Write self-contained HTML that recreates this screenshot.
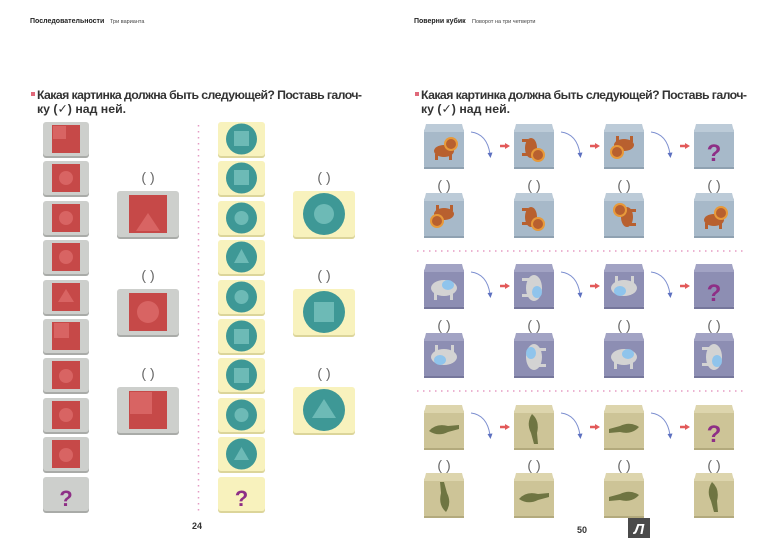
<!DOCTYPE html>
<html><head><meta charset="utf-8"><style>
html,body{margin:0;padding:0;background:#fff;width:770px;height:550px;overflow:hidden}
svg{display:block}
text{font-family:"Liberation Sans","DejaVu Sans",sans-serif}
</style></head><body>
<svg width="770" height="550" viewBox="0 0 770 550" xmlns="http://www.w3.org/2000/svg">
<defs>
<g id="gs"><rect x="0" y="1" width="46" height="35" rx="3" fill="#a9aba8"/><rect x="0" y="0" width="46" height="34" rx="3" fill="#cdcfcc"/><rect x="9" y="3" width="28" height="28" fill="#c64948"/></g>
<g id="gb"><rect x="0" y="1" width="62" height="47" rx="3" fill="#a9aba8"/><rect x="0" y="0" width="62" height="46" rx="3" fill="#cdcfcc"/><rect x="12" y="4" width="38" height="38" fill="#c64948"/></g>
<g id="ys"><rect x="0" y="1" width="47" height="35" rx="3" fill="#dcd59a"/><rect x="0" y="0" width="47" height="34" rx="3" fill="#f8f2bd"/><circle cx="23.5" cy="17" r="15.5" fill="#3e9896"/></g>
<g id="yb"><rect x="0" y="1" width="62" height="47" rx="3" fill="#dcd59a"/><rect x="0" y="0" width="62" height="46" rx="3" fill="#f8f2bd"/><circle cx="31" cy="23" r="21" fill="#3e9896"/></g>
<g id="cb"><rect x="0" y="4" width="40" height="41" rx="3" fill="#a7b9c9"/><path d="M2 0H38L40 8H0Z" fill="#bccbd8"/><rect x="0" y="43" width="40" height="2" fill="#8fa1b1"/></g>
<g id="ce"><rect x="0" y="4" width="40" height="41" rx="3" fill="#8d8eb3"/><path d="M2 0H38L40 8H0Z" fill="#a2a3c4"/><rect x="0" y="43" width="40" height="2" fill="#76779c"/></g>
<g id="cc"><rect x="0" y="4" width="40" height="41" rx="3" fill="#cdc497"/><path d="M2 0H38L40 8H0Z" fill="#ddd5ad"/><rect x="0" y="43" width="40" height="2" fill="#b3aa7d"/></g>
<g id="lion"><ellipse cx="0" cy="3" rx="10" ry="6" fill="#b8602f"/><circle cx="7" cy="-4" r="7" fill="#e89a3a"/><circle cx="7" cy="-4" r="5" fill="#b8602f"/><rect x="-9" y="6" width="3" height="6" fill="#b8602f"/><rect x="5" y="6" width="3" height="6" fill="#b8602f"/></g>
<g id="ele"><ellipse cx="0" cy="0" rx="13" ry="8" fill="#d3d3d3"/><ellipse cx="4" cy="-3" rx="6" ry="5" fill="#8fc4ec"/><rect x="-10" y="5" width="3" height="7" fill="#d3d3d3"/><rect x="6" y="5" width="3" height="7" fill="#d3d3d3"/></g>
<g id="croc"><path d="M-15 2Q-8 -6 4 -3L15 -4L15 0L4 3Q-6 8 -15 2Z" fill="#6f7542"/></g>
<g id="arr"><path d="M0 0Q16 2 19 22" fill="none" stroke="#7d8fd0" stroke-width="1"/><path d="M16.5 21L19.5 26L21.5 20.5Z" fill="#5d70c0"/><path d="M29 14H35" stroke="#e25a5a" stroke-width="2.5"/><path d="M34 11L39 14L34 17Z" fill="#e25a5a"/></g>
<g id="par"><text x="0" y="0" font-size="14" fill="#666" text-anchor="middle">(   )</text></g>
</defs>

<!-- left page -->
<text x="30" y="23" font-size="7" font-weight="bold" fill="#222">Последовательности</text>
<text x="110" y="23" font-size="5.5" fill="#444">Три варианта</text>
<rect x="31" y="92" width="4" height="4" fill="#e0697a"/>
<text x="37" y="99" font-size="12.3" font-weight="bold" fill="#333" textLength="325">Какая картинка должна быть следующей? Поставь галоч-</text>
<text x="37" y="113" font-size="12.3" font-weight="bold" fill="#333">ку (✓) над ней.</text>

<line x1="198.5" y1="125" x2="198.5" y2="512" stroke="#e59bc3" stroke-width="1.5" stroke-dasharray="1.5 4.5"/>

<g fill="#d86463">
<use href="#gs" x="43" y="122"/><rect x="53" y="126" width="13" height="13" fill="#d86463"/>
<use href="#gs" x="43" y="161"/><circle cx="66" cy="178" r="7"/>
<use href="#gs" x="43" y="201"/><circle cx="66" cy="218" r="7"/>
<use href="#gs" x="43" y="240"/><circle cx="66" cy="257" r="7"/>
<use href="#gs" x="43" y="280"/><path d="M66 289L74 302H58Z"/>
<use href="#gs" x="43" y="319"/><rect x="54" y="323" width="15" height="15"/>
<use href="#gs" x="43" y="358"/><circle cx="66" cy="376" r="7"/>
<use href="#gs" x="43" y="398"/><circle cx="66" cy="415" r="7"/>
<use href="#gs" x="43" y="437"/><circle cx="66" cy="455" r="7"/>
</g>
<rect x="43" y="478" width="46" height="35" rx="3" fill="#a9aba8"/><rect x="43" y="477" width="46" height="34" rx="3" fill="#cdcfcc"/>
<text x="66" y="506" font-size="22" font-weight="bold" fill="#8e2f86" text-anchor="middle">?</text>

<g fill="#d86463">
<use href="#gb" x="117" y="191"/><path d="M148 213L160 231H136Z"/>
<use href="#gb" x="117" y="289"/><circle cx="148" cy="312" r="11"/>
<use href="#gb" x="117" y="387"/><rect x="130" y="392" width="22" height="22"/>
</g>
<use href="#par" x="148" y="182"/><use href="#par" x="148" y="280"/><use href="#par" x="148" y="378"/>

<g fill="#6dbab6">
<use href="#ys" x="218" y="122"/><rect x="234" y="131" width="15" height="15"/>
<use href="#ys" x="218" y="161"/><rect x="234" y="170" width="15" height="15"/>
<use href="#ys" x="218" y="201"/><circle cx="241.5" cy="218" r="7"/>
<use href="#ys" x="218" y="240"/><path d="M241.5 249L249 263H234Z"/>
<use href="#ys" x="218" y="280"/><circle cx="241.5" cy="297" r="7"/>
<use href="#ys" x="218" y="319"/><rect x="234" y="329" width="15" height="15"/>
<use href="#ys" x="218" y="358"/><rect x="234" y="368" width="15" height="15"/>
<use href="#ys" x="218" y="398"/><circle cx="241.5" cy="415" r="7"/>
<use href="#ys" x="218" y="437"/><path d="M241.5 447L249 460H234Z"/>
</g>
<rect x="218" y="478" width="47" height="35" rx="3" fill="#dcd59a"/><rect x="218" y="477" width="47" height="34" rx="3" fill="#f8f2bd"/>
<text x="241.5" y="506" font-size="22" font-weight="bold" fill="#8e2f86" text-anchor="middle">?</text>

<g fill="#6dbab6">
<use href="#yb" x="293" y="191"/><circle cx="324" cy="214" r="10"/>
<use href="#yb" x="293" y="289"/><rect x="314" y="302" width="20" height="20"/>
<use href="#yb" x="293" y="387"/><path d="M324 399L336 418H312Z"/>
</g>
<use href="#par" x="324" y="182"/><use href="#par" x="324" y="280"/><use href="#par" x="324" y="378"/>

<text x="197" y="529" font-size="9" font-weight="bold" fill="#333" text-anchor="middle">24</text>

<!-- right page -->
<text x="414" y="23" font-size="7" font-weight="bold" fill="#222">Поверни кубик</text>
<text x="472" y="23" font-size="5.5" fill="#444">Поворот на три четверти</text>
<rect x="415" y="92" width="4" height="4" fill="#e0697a"/>
<text x="421" y="99" font-size="12.3" font-weight="bold" fill="#333" textLength="326">Какая картинка должна быть следующей? Поставь галоч-</text>
<text x="421" y="113" font-size="12.3" font-weight="bold" fill="#333">ку (✓) над ней.</text>

<line x1="417" y1="251" x2="745" y2="251" stroke="#e59bc3" stroke-width="1.5" stroke-dasharray="1.5 4.5"/>
<line x1="417" y1="391" x2="745" y2="391" stroke="#e59bc3" stroke-width="1.5" stroke-dasharray="1.5 4.5"/>

<!-- row 1 lions -->
<use href="#cb" x="424" y="124"/><use href="#lion" x="444" y="148"/>
<use href="#cb" x="514" y="124"/><use href="#lion" transform="translate(534 148) rotate(90)"/>
<use href="#cb" x="604" y="124"/><use href="#lion" transform="translate(624 148) rotate(180)"/>
<use href="#cb" x="694" y="124"/><text x="714" y="161" font-size="24" font-weight="bold" fill="#8e2f86" text-anchor="middle">?</text>
<use href="#arr" x="471" y="132"/><use href="#arr" x="561" y="132"/><use href="#arr" x="651" y="132"/>
<use href="#par" x="444" y="190"/><use href="#par" x="534" y="190"/><use href="#par" x="624" y="190"/><use href="#par" x="714" y="190"/>
<use href="#cb" x="424" y="193"/><use href="#lion" transform="translate(444 217) rotate(180)"/>
<use href="#cb" x="514" y="193"/><use href="#lion" transform="translate(534 217) rotate(90)"/>
<use href="#cb" x="604" y="193"/><use href="#lion" transform="translate(624 217) rotate(-90)"/>
<use href="#cb" x="694" y="193"/><use href="#lion" x="714" y="217"/>

<!-- row 2 elephants -->
<use href="#ce" x="424" y="264"/><use href="#ele" x="444" y="288"/>
<use href="#ce" x="514" y="264"/><use href="#ele" transform="translate(534 288) rotate(90)"/>
<use href="#ce" x="604" y="264"/><use href="#ele" transform="translate(624 288) rotate(180)"/>
<use href="#ce" x="694" y="264"/><text x="714" y="301" font-size="24" font-weight="bold" fill="#8e2f86" text-anchor="middle">?</text>
<use href="#arr" x="471" y="272"/><use href="#arr" x="561" y="272"/><use href="#arr" x="651" y="272"/>
<use href="#par" x="444" y="330"/><use href="#par" x="534" y="330"/><use href="#par" x="624" y="330"/><use href="#par" x="714" y="330"/>
<use href="#ce" x="424" y="333"/><use href="#ele" transform="translate(444 357) rotate(180)"/>
<use href="#ce" x="514" y="333"/><use href="#ele" transform="translate(534 357) rotate(-90)"/>
<use href="#ce" x="604" y="333"/><use href="#ele" x="624" y="357"/>
<use href="#ce" x="694" y="333"/><use href="#ele" transform="translate(714 357) rotate(90)"/>

<!-- row 3 crocs -->
<use href="#cc" x="424" y="405"/><use href="#croc" x="444" y="429"/>
<use href="#cc" x="514" y="405"/><use href="#croc" transform="translate(534 429) rotate(90)"/>
<use href="#cc" x="604" y="405"/><use href="#croc" transform="translate(624 429) rotate(180)"/>
<use href="#cc" x="694" y="405"/><text x="714" y="442" font-size="24" font-weight="bold" fill="#8e2f86" text-anchor="middle">?</text>
<use href="#arr" x="471" y="413"/><use href="#arr" x="561" y="413"/><use href="#arr" x="651" y="413"/>
<use href="#par" x="444" y="470"/><use href="#par" x="534" y="470"/><use href="#par" x="624" y="470"/><use href="#par" x="714" y="470"/>
<use href="#cc" x="424" y="473"/><use href="#croc" transform="translate(444 497) rotate(-90)"/>
<use href="#cc" x="514" y="473"/><use href="#croc" x="534" y="497"/>
<use href="#cc" x="604" y="473"/><use href="#croc" transform="translate(624 497) rotate(180)"/>
<use href="#cc" x="694" y="473"/><use href="#croc" transform="translate(714 497) rotate(90)"/>

<text x="582" y="533" font-size="9" font-weight="bold" fill="#333" text-anchor="middle">50</text>
<rect x="628" y="518" width="22" height="20" fill="#4a4a4a"/>
<text x="639" y="534" font-size="15" font-weight="bold" font-style="italic" fill="#fff" text-anchor="middle">Л</text>
</svg>
</body></html>
